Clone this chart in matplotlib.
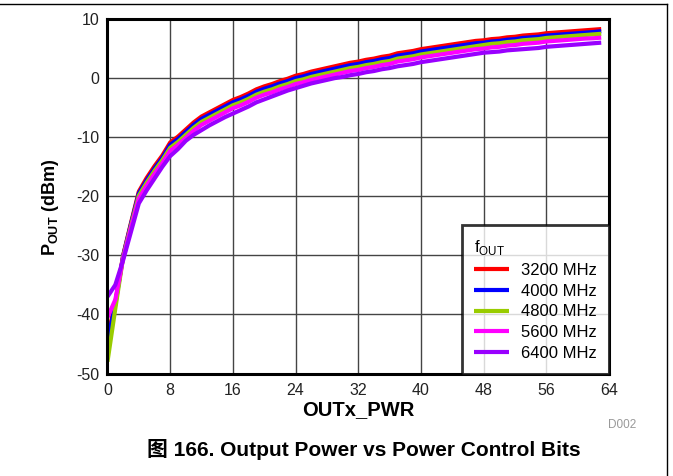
import matplotlib
matplotlib.use("Agg")
import matplotlib.pyplot as plt
from matplotlib.lines import Line2D

plt.rcParams['font.family'] = ['Liberation Sans', 'Noto Sans CJK SC', 'DejaVu Sans']
plt.rcParams['mathtext.fontset'] = 'custom'
plt.rcParams['mathtext.rm'] = 'Liberation Sans'
plt.rcParams['mathtext.bf'] = 'Liberation Sans:bold'
plt.rcParams['axes.unicode_minus'] = False

x_vals = list(range(64))
series_labels = ['3200 MHz', '4000 MHz', '4800 MHz', '5600 MHz', '6400 MHz']
series_colors = ['#FF0000', '#0000FF', '#99CC00', '#FF00FF', '#9900FF']

p3200 = [-44.0, -38.0, -30.0, -24.5, -19.2, -16.9, -14.9, -13.1, -10.9, -9.9,
         -8.7, -7.5, -6.5, -5.8, -5.1, -4.4, -3.7, -3.2, -2.6, -1.9,
         -1.4, -1.0, -0.5, -0.1, 0.4, 0.7, 1.1, 1.4, 1.7, 2.0,
         2.3, 2.6, 2.8, 3.1, 3.3, 3.6, 3.8, 4.2, 4.4, 4.6,
         4.9, 5.1, 5.3, 5.5, 5.7, 5.9, 6.1, 6.3, 6.4, 6.6,
         6.7, 6.9, 7.0, 7.2, 7.3, 7.4, 7.6, 7.7, 7.8, 7.9,
         8.0, 8.1, 8.2, 8.3]
p4000 = [-44.5, -38.3, -30.1, -24.7, -19.5, -17.3, -15.3, -13.5, -11.3, -10.3,
         -9.1, -7.9, -6.9, -6.2, -5.5, -4.8, -4.1, -3.6, -3.0, -2.3,
         -1.8, -1.4, -0.9, -0.5, 0.0, 0.3, 0.7, 1.0, 1.3, 1.6,
         1.9, 2.2, 2.4, 2.7, 2.9, 3.2, 3.4, 3.8, 4.0, 4.2,
         4.5, 4.7, 4.9, 5.1, 5.3, 5.5, 5.7, 5.9, 6.0, 6.2,
         6.3, 6.5, 6.6, 6.8, 6.9, 7.0, 7.2, 7.3, 7.4, 7.5,
         7.6, 7.7, 7.8, 7.95]
p4800 = [-48.0, -39.0, -30.3, -25.0, -19.9, -17.7, -15.7, -13.9, -11.8, -10.8,
         -9.6, -8.4, -7.4, -6.7, -6.0, -5.3, -4.6, -4.1, -3.5, -2.8,
         -2.3, -1.9, -1.4, -1.0, -0.5, -0.2, 0.2, 0.5, 0.8, 1.1,
         1.4, 1.7, 1.9, 2.2, 2.4, 2.7, 2.9, 3.3, 3.5, 3.7,
         4.0, 4.2, 4.4, 4.6, 4.8, 5.0, 5.2, 5.4, 5.6, 5.8,
         5.9, 6.1, 6.2, 6.4, 6.5, 6.6, 6.8, 6.9, 7.0, 7.1,
         7.2, 7.3, 7.4, 7.5]
p5600 = [-40.5, -37.5, -30.5, -25.3, -20.4, -18.2, -16.2, -14.4, -12.3, -11.3,
         -10.1, -8.9, -7.9, -7.2, -6.5, -5.8, -5.1, -4.6, -4.0, -3.3,
         -2.8, -2.4, -1.9, -1.5, -1.0, -0.7, -0.3, 0.0, 0.3, 0.6,
         0.9, 1.2, 1.4, 1.7, 1.9, 2.2, 2.4, 2.8, 3.0, 3.2,
         3.5, 3.7, 3.9, 4.1, 4.3, 4.5, 4.7, 4.9, 5.0, 5.2,
         5.3, 5.5, 5.6, 5.8, 5.9, 6.0, 6.2, 6.3, 6.4, 6.5,
         6.6, 6.7, 6.75, 6.85]
p6400 = [-37.0, -35.0, -30.8, -26.0, -21.2, -19.0, -17.0, -15.0, -13.2, -12.0,
         -10.6, -9.6, -8.8, -8.0, -7.3, -6.6, -6.0, -5.4, -4.8, -4.1,
         -3.6, -3.1, -2.6, -2.1, -1.7, -1.3, -0.9, -0.6, -0.3, 0.0,
         0.2, 0.5, 0.7, 1.0, 1.2, 1.5, 1.7, 2.0, 2.2, 2.4,
         2.7, 2.9, 3.1, 3.3, 3.5, 3.7, 3.9, 4.1, 4.3, 4.4,
         4.5, 4.7, 4.8, 4.9, 5.0, 5.1, 5.3, 5.4, 5.5, 5.6,
         5.7, 5.8, 5.9, 6.0]
series_values = [p3200, p4000, p4800, p5600, p6400]

x_ticks = [0, 8, 16, 24, 32, 40, 48, 56, 64]
y_ticks = [-50, -40, -30, -20, -10, 0, 10]

fig = plt.figure(figsize=(6.73, 4.76), dpi=100)
ax = fig.add_axes([0.1597, 0.2153, 0.7453, 0.7447])

for vals, lab, col in zip(series_values, series_labels, series_colors):
    ax.plot(x_vals, vals, color=col, lw=3.0, label=lab, solid_capstyle='butt', zorder=3)

ax.set_xlim(0, 64)
ax.set_ylim(-50, 10)
ax.set_xticks(x_ticks)
ax.set_yticks(y_ticks)
ax.grid(True, color='#444444', lw=1.0, zorder=1)
ax.set_axisbelow(True)
for s in ax.spines.values():
    s.set_linewidth(2.2)
    s.set_color('black')
    s.set_zorder(5)
ax.tick_params(axis='both', labelsize=11.5, length=0, colors='#222222')
ax.tick_params(axis='x', pad=7)
ax.tick_params(axis='y', pad=6)

ax.set_xlabel('OUTx_PWR', fontsize=14.5, fontweight='bold', labelpad=1)
ax.set_ylabel(r'$\mathbf{P_{OUT}}$' + ' (dBm)', fontsize=13, fontweight='bold')
ax.yaxis.set_label_coords(-0.093, 0.47)

leg = ax.legend(loc='lower right', bbox_to_anchor=(1.0, 0.0), borderaxespad=0.0,
                title=r'f$_{\mathrm{OUT}}$', fontsize=12, title_fontsize=12,
                frameon=True, fancybox=False, handlelength=2.1, handletextpad=0.7,
                labelspacing=0.35, borderpad=0.75, alignment='left')
leg.get_frame().set_edgecolor('black')
leg.get_frame().set_linewidth(2.0)
for h in leg.get_lines():
    h.set_linewidth(3.0)
leg.set_zorder(6)

fig.text(622 / 673, 1 - 425 / 476, 'D002', fontsize=8.5, color='#999999', ha='center', va='center')
fig.text(364 / 673, 1 - 449 / 476, '图 166. Output Power vs Power Control Bits',
         fontsize=15, fontweight='bold', ha='center', va='center',
         family=['Liberation Sans', 'Noto Sans CJK SC'])

fig.add_artist(Line2D([0, 667 / 673], [1 - 4 / 476, 1 - 4 / 476], color='black', lw=1.0,
                      transform=fig.transFigure))
fig.add_artist(Line2D([667 / 673, 667 / 673], [1 - 4 / 476, 0], color='black', lw=1.0,
                      transform=fig.transFigure))

fig.savefig('out.png', dpi=100)
